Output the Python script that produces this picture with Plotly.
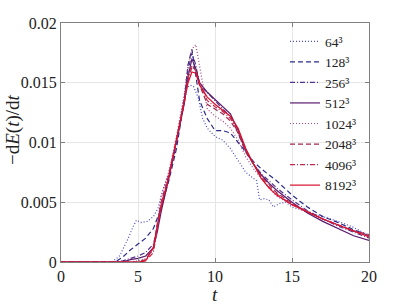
import plotly.graph_objects as go

# ---- data ----
t64 = [0, 3.3, 3.8, 4.3, 4.7, 4.9, 5.2, 5.6, 6.0, 6.3, 6.6, 7.0, 7.4, 7.8, 8.1, 8.4, 8.6, 8.9, 9.2,
       9.5, 10.0, 10.5, 11.0, 11.5, 12.0, 12.4, 12.7, 12.9, 13.2, 13.5, 13.8, 14.2, 14.6, 15.0,
       16.0, 17.0, 18.0, 19.0, 20.0]
v64 = [0, 0, 0.0005, 0.0018, 0.003, 0.0035, 0.0033, 0.0034, 0.0038, 0.0045, 0.006, 0.0075, 0.0095,
       0.0125, 0.0145, 0.0148, 0.0147, 0.0138, 0.012, 0.0112, 0.0105, 0.0102, 0.0095, 0.0085,
       0.0075, 0.0071, 0.0068, 0.0052, 0.0053, 0.0052, 0.0046, 0.0049, 0.0050, 0.0046, 0.0042,
       0.0038, 0.0034, 0.0029, 0.0022]

tc = [0, 3, 3.5, 4, 4.5, 5, 5.5, 6, 6.25, 6.5, 7, 7.5, 8, 8.25, 8.5, 8.75, 9, 9.5, 10, 10.5, 11,
      11.5, 12, 12.5, 13, 13.5, 14, 15, 16, 17, 18, 19, 20]
v128 = [0, 0, 0, 0.0004, 0.001, 0.0015, 0.002, 0.0028, 0.0036, 0.0045, 0.0068, 0.0095, 0.0135,
        0.0165, 0.0178, 0.0158, 0.0135, 0.0120, 0.0110, 0.0110, 0.0108, 0.0100, 0.0092, 0.0084,
        0.0078, 0.0073, 0.0068, 0.0056, 0.0046, 0.0038, 0.0033, 0.0027, 0.0022]
v256 = [0, 0, 0, 0.0001, 0.0003, 0.0005, 0.0008, 0.0015, 0.0028, 0.0045, 0.0072, 0.0100, 0.0135,
        0.0160, 0.0175, 0.0165, 0.0148, 0.0142, 0.0135, 0.0128, 0.0122, 0.0108, 0.0092, 0.0082,
        0.0074, 0.0068, 0.0062, 0.0052, 0.0043, 0.0036, 0.0030, 0.0025, 0.0020]
v512 = [0, 0, 0, 0, 0.0002, 0.0003, 0.0005, 0.0012, 0.0025, 0.0042, 0.0070, 0.0100, 0.0132, 0.0155,
        0.0170, 0.0162, 0.0150, 0.0142, 0.0136, 0.0130, 0.0124, 0.0110, 0.0093, 0.0082, 0.0073,
        0.0066, 0.0060, 0.0050, 0.0041, 0.0034, 0.0028, 0.0022, 0.0018]
v1024 = [0, 0, 0, 0, 0, 0.0001, 0.0003, 0.0010, 0.0030, 0.0055, 0.0075, 0.0105, 0.0140, 0.0165,
         0.0178, 0.0182, 0.0165, 0.0128, 0.0122, 0.0118, 0.0112, 0.0102, 0.0088, 0.0078, 0.0070,
         0.0062, 0.0055, 0.0048, 0.0042, 0.0036, 0.0031, 0.0026, 0.0022]
v2048 = [0, 0, 0, 0, 0, 0, 0.0002, 0.0012, 0.0032, 0.0050, 0.0073, 0.0102, 0.0135, 0.0155, 0.0165,
         0.0160, 0.0148, 0.0132, 0.0128, 0.0124, 0.0118, 0.0108, 0.0092, 0.0082, 0.0072, 0.0065,
         0.0058, 0.0049, 0.0042, 0.0036, 0.0031, 0.0026, 0.0023]
v4096 = [0, 0, 0, 0, 0, 0, 0.0001, 0.0008, 0.0028, 0.0048, 0.0072, 0.0102, 0.0133, 0.0152, 0.0163,
         0.0160, 0.0150, 0.0135, 0.0130, 0.0126, 0.0120, 0.0110, 0.0094, 0.0082, 0.0071, 0.0063,
         0.0057, 0.0048, 0.0042, 0.0036, 0.0031, 0.0026, 0.0022]
v8192 = [0, 0, 0, 0, 0, 0, 0.0001, 0.0012, 0.0030, 0.0046, 0.0071, 0.0102, 0.0132, 0.0150, 0.0159,
         0.0158, 0.0148, 0.0138, 0.0132, 0.0127, 0.0122, 0.0112, 0.0095, 0.0082, 0.0070, 0.0062,
         0.0056, 0.0048, 0.0042, 0.0036, 0.0031, 0.0026, 0.0021]

names = ["64³", "128³", "256³", "512³", "1024³", "2048³", "4096³", "8192³"]
xs = [t64, tc, tc, tc, tc, tc, tc, tc]
ys = [v64, v128, v256, v512, v1024, v2048, v4096, v8192]
colors = ["#4b4bc8", "#2c2a8c", "#55338a", "#5a1a6e", "#a84680", "#a02850", "#c42a4c", "#d9102d"]
DOT, DASH, DASHDOT = "1px,2px", "5px,3px", "5px,2px,1px,2px"
dashes = [DOT, DASH, DASHDOT, "solid", DOT, DASH, DASHDOT, "solid"]

xticks = [0, 5, 10, 15, 20]
yticks = [0, 0.005, 0.01, 0.015, 0.02]
yticklabels = ["0", "0.005", "0.01", "0.015", "0.02"]

FONT = "Liberation Serif, Times New Roman, serif"

fig = go.Figure()
for x, y, n, c, d in zip(xs, ys, names, colors, dashes):
    fig.add_trace(go.Scatter(x=x, y=y, name=n, mode="lines",
                             line=dict(color=c, dash=d, width=1.2)))

axis_common = dict(showline=True, linecolor="#808080", linewidth=1, mirror="ticks",
                   ticks="inside", ticklen=4, tickcolor="#808080", showgrid=True,
                   gridcolor="#e6e6e6", gridwidth=1, zeroline=False,
                   tickfont=dict(family=FONT, size=16, color="#222"))

W, H = 407, 306
L, R, T, B = 61, 38, 23, 44
PW = W - L - R
PH = H - T - B

fig.update_layout(
    width=W, height=H,
    margin=dict(l=L, r=R, t=T, b=B),
    paper_bgcolor="white", plot_bgcolor="white",
    showlegend=True,
    legend=dict(x=(285 - L) / PW, y=1 - (26 - T) / PH, xanchor="left", yanchor="top",
                bgcolor="rgba(255,255,255,0)", font=dict(family=FONT, size=13.5, color="#222"),
                tracegroupgap=0, itemwidth=30),
    xaxis=dict(range=[0, 20], tickvals=xticks, **axis_common),
    yaxis=dict(range=[0, 0.02], tickvals=yticks, ticktext=yticklabels, **axis_common),
    annotations=[
        dict(text="<i>t</i>", x=(215 - L) / PW, y=-(294 - T - PH) / PH,
             xref="paper", yref="paper", xanchor="center",
             yanchor="middle", showarrow=False, font=dict(family=FONT, size=19, color="#222")),
        dict(text="\u2212d<i>E</i>(<i>t</i>)/d<i>t</i>", x=(13 - L) / PW,
             y=1 - (130 - T) / PH,
             xref="paper", yref="paper", textangle=-90, xanchor="center", yanchor="middle",
             showarrow=False, font=dict(family=FONT, size=19, color="#222")),
    ],
)

fig.write_html("out.html", config={"displayModeBar": False},
               post_script="document.body.style.margin='0';document.body.style.padding='0';")
